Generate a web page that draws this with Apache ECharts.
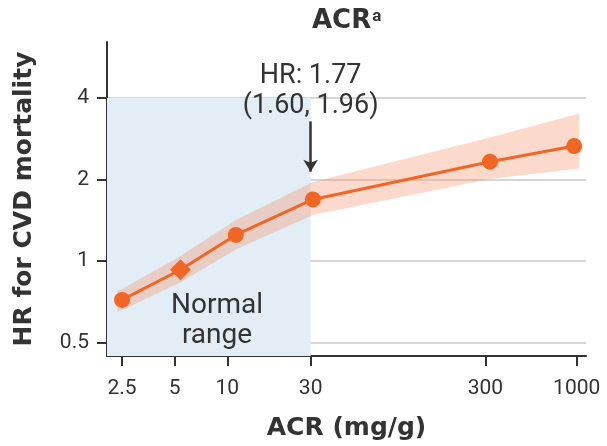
<!DOCTYPE html>
<html>
<head>
<meta charset="utf-8">
<script src="https://cdn.jsdelivr.net/npm/echarts@6/dist/echarts.min.js"></script>
<style>
  html, body { margin: 0; padding: 0; background: #fff; }
  #chart { width: 607px; height: 446px; }
</style>
</head>
<body>
<div id="chart"></div>
<script>
// ACR categories (mg/g) and hazard ratios
const pointAcr = [2.5, 5.4, 11.2, 30.9, 319, 967];
const pointHr = [0.72, 0.93, 1.25, 1.69, 2.33, 2.66];
const pointSymbol = ['circle', 'diamond', 'circle', 'circle', 'circle', 'circle'];

// confidence band
const bandAcr = [2.35, 2.5, 5.4, 11.2, 30.9, 319, 1035];
const bandLow = [0.65, 0.66, 0.837, 1.105, 1.48, 2.01, 2.2];
const bandHigh = [0.78, 0.79, 1.045, 1.42, 1.96, 2.86, 3.51];

const xTicks = [2.5, 5, 10, 30, 300, 1000];
const yTicks = [0.5, 1, 2, 4];

const xMin = 2.05, xMax = 1130;
const yMin = 0.447, yMax = 6.44;

const normalUpper = 30;
const normalHrTop = 4;
const arrowFrom = 3.28;
const arrowTo = 2.14;
const noteText = 'HR: 1.77\n(1.60, 1.96)';

const FONT = 'Roboto, sans-serif';
const BOLD_FONT = '"DejaVu Sans", sans-serif';
const TEXT = '#333333';
const ORANGE = '#f26522';

let chart = echarts.init(document.getElementById('chart'));

const option = {
    animation: false,
    textStyle: { fontFamily: FONT },
    title: {
        text: '{m|ACR}{s|a}',
        left: 312,
        top: 8,
        padding: 0,
        textStyle: {
            rich: {
                m: { fontSize: 26, fontWeight: 'bold', color: TEXT, fontFamily: BOLD_FONT },
                s: { fontSize: 17, color: TEXT, fontFamily: FONT, verticalAlign: 'top', padding: [0, 0, 0, 1] }
            }
        }
    },
    grid: {
        left: 107,
        right: 21,
        top: 42,
        bottom: 85
    },
    xAxis: {
        type: 'log',
        logBase: 10,
        min: xMin,
        max: xMax,
        name: 'ACR (mg/g)',
        nameLocation: 'middle',
        nameGap: 60,
        nameTextStyle: { fontSize: 25, fontWeight: 'bold', color: TEXT, fontFamily: BOLD_FONT },
        axisLine: { lineStyle: { color: TEXT, width: 2 } },
        axisTick: { length: 10, lineStyle: { color: TEXT, width: 2 }, customValues: xTicks },
        axisLabel: { fontSize: 21, color: TEXT, margin: 22, customValues: xTicks, formatter: v => String(v) },
        minorTick: { show: false },
        splitLine: { show: false }
    },
    yAxis: {
        type: 'log',
        logBase: 2,
        min: yMin,
        max: yMax,
        name: 'HR for CVD mortality',
        nameLocation: 'middle',
        nameGap: 70,
        nameTextStyle: { fontSize: 25, fontWeight: 'bold', color: TEXT, fontFamily: BOLD_FONT },
        axisLine: { show: true, lineStyle: { color: TEXT, width: 2 } },
        axisTick: { show: true, length: 10, lineStyle: { color: TEXT, width: 2 }, customValues: yTicks },
        axisLabel: { fontSize: 21, color: TEXT, margin: 18, customValues: yTicks, formatter: v => String(v) },
        splitLine: { show: true, lineStyle: { color: '#d6d6d6', width: 2 } }
    },
    series: [
        {
            // normal range shading
            type: 'line',
            z: 1,
            data: [],
            markArea: {
                silent: true,
                itemStyle: { color: '#e2edf6' },
                data: [[{ coord: [xMin, yMin] }, { coord: [normalUpper, normalHrTop] }]]
            }
        },
        {
            type: 'custom',
            z: 2,
            silent: true,
            data: bandAcr.map((x, i) => [x, bandLow[i], bandHigh[i]]),
            renderItem: function (params, api) {
                if (params.dataIndex !== 0) return null;
                let upper = bandAcr.map((x, i) => api.coord([x, bandHigh[i]]));
                let lower = bandAcr.map((x, i) => api.coord([x, bandLow[i]])).reverse();
                return {
                    type: 'polygon',
                    shape: { points: upper.concat(lower) },
                    style: { fill: 'rgba(244,150,110,0.36)' }
                };
            }
        },
        {
            type: 'line',
            z: 3,
            data: pointAcr.map((x, i) => ({
                value: [x, pointHr[i]],
                symbol: pointSymbol[i],
                symbolSize: pointSymbol[i] === 'diamond' ? 21 : 16
            })),
            lineStyle: { color: ORANGE, width: 3 },
            itemStyle: { color: ORANGE },
            markLine: {
                silent: true,
                symbol: ['none', 'arrow'],
                symbolSize: [11, 12],
                lineStyle: { color: TEXT, width: 2.5, type: 'solid' },
                label: {
                    show: true,
                    position: 'start',
                    distance: 0,
                    formatter: noteText,
                    fontSize: 27,
                    lineHeight: 30,
                    color: TEXT,
                    fontFamily: FONT
                },
                data: [[{ coord: [normalUpper, arrowFrom] }, { coord: [normalUpper, arrowTo] }]]
            }
        }
    ],
    graphic: [
        {
            type: 'text',
            x: 217,
            y: 291,
            z: 10,
            style: {
                text: 'Normal\nrange',
                align: 'center',
                fontSize: 28,
                lineHeight: 30,
                fill: TEXT,
                fontFamily: FONT
            }
        }
    ]
};

chart.setOption(option);

window.addEventListener('resize', function () {
    chart.resize();
});
</script>
</body>
</html>
